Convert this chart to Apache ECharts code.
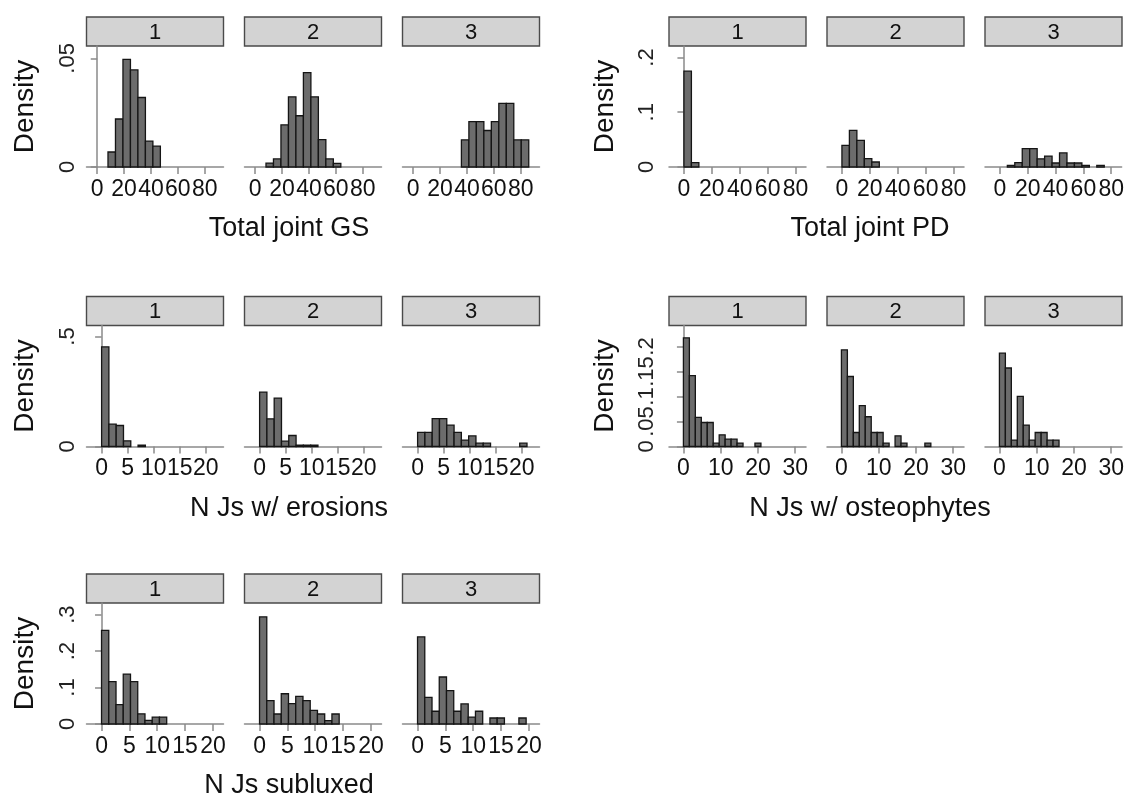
<!DOCTYPE html>
<html>
<head>
<meta charset="utf-8">
<script src="https://cdn.jsdelivr.net/npm/echarts@6/dist/echarts.min.js"></script>
<style>
html,body{margin:0;padding:0;background:#fff;}
#chart{width:1127px;height:798px;}
</style>
</head>
<body>
<div id="chart"></div>
<script>
// ---------- DATA ----------
const facetLabels = ['1', '2', '3'];
const yTitle = 'Density';

// Total joint GS
const gsTitle = 'Total joint GS';
const gsBinStart = 8;
const gsBinWidth = 78 / 14;
const gsDensity1 = [0.0069, 0.0221, 0.0495, 0.0447, 0.0320, 0.0119, 0.0096, 0, 0, 0, 0, 0, 0, 0];
const gsDensity2 = [0.0018, 0.0037, 0.0194, 0.0323, 0.0236, 0.0434, 0.0323, 0.0126, 0.0037, 0.0017, 0, 0, 0, 0];
const gsDensity3 = [0, 0, 0, 0, 0, 0.0125, 0.0209, 0.0209, 0.0168, 0.0209, 0.0293, 0.0293, 0.0125, 0.0125];
const gsXTicks = [0, 20, 40, 60, 80];
const gsYTicks = [0, 0.05];

// Total joint PD
const pdTitle = 'Total joint PD';
const pdBinStart = 0;
const pdBinWidth = 75 / 14;
const pdDensity1 = [0.175, 0.008, 0, 0, 0, 0, 0, 0, 0, 0, 0, 0, 0, 0];
const pdDensity2 = [0.0396, 0.067, 0.0488, 0.0152, 0.0091, 0, 0, 0, 0, 0, 0, 0, 0, 0];
const pdDensity3 = [0, 0.003, 0.008, 0.0336, 0.0336, 0.015, 0.020, 0.0073, 0.0257, 0.0073, 0.0073, 0.003, 0, 0.003];
const pdXTicks = [0, 20, 40, 60, 80];
const pdYTicks = [0, 0.1, 0.2];

// N Js w/ erosions
const erTitle = 'N Js w/ erosions';
const erBinStart = 0;
const erBinWidth = 1.4;
const erDensity1 = [0.453, 0.1015, 0.0955, 0.026, 0, 0.006, 0, 0, 0, 0, 0, 0, 0, 0, 0];
const erDensity2 = [0.247, 0.126, 0.22, 0.024, 0.05, 0.006, 0.006, 0.006, 0, 0, 0, 0, 0, 0, 0];
const erDensity3 = [0.064, 0.064, 0.127, 0.127, 0.097, 0.064, 0.029, 0.048, 0.015, 0.015, 0, 0, 0, 0, 0.015];
const erXTicks = [0, 5, 10, 15, 20];
const erYTicks = [0, 0.5];

// N Js w/ osteophytes
const osTitle = 'N Js w/ osteophytes';
const osBinStart = 0;
const osBinWidth = 1.6;
const osDensity1 = [0.2174, 0.1418, 0.0582, 0.048, 0.048, 0.0067, 0.0234, 0.0147, 0.0147, 0.0067, 0, 0, 0.0067, 0, 0];
const osDensity2 = [0.1933, 0.14, 0.028, 0.0816, 0.0595, 0.028, 0.028, 0.0067, 0, 0.0214, 0.0067, 0, 0, 0, 0.0067];
const osDensity3 = [0.1866, 0.157, 0.0127, 0.1003, 0.0428, 0.0127, 0.028, 0.028, 0.0127, 0.0127, 0, 0, 0, 0, 0];
const osXTicks = [0, 10, 20, 30];
const osYTicks = [0, 0.05, 0.1, 0.15, 0.2];

// N Js subluxed
const suTitle = 'N Js subluxed';
const suBinStart = 0;
const suBinWidth = 1.3;
const suDensity1 = [0.257, 0.116, 0.053, 0.137, 0.116, 0.028, 0.01, 0.019, 0.019, 0, 0, 0, 0, 0, 0];
const suDensity2 = [0.294, 0.064, 0.0275, 0.083, 0.056, 0.076, 0.064, 0.0375, 0.0275, 0.009, 0.0275, 0, 0, 0, 0];
const suDensity3 = [0.239, 0.073, 0.035, 0.129, 0.0915, 0.035, 0.055, 0.019, 0.035, 0, 0.0165, 0.0165, 0, 0, 0.0165];
const suXTicks = [0, 5, 10, 15, 20];
const suYTicks = [0, 0.1, 0.2, 0.3];

// ---------- LAYOUT ----------
const panels = [
  {title: gsTitle, start: gsBinStart, width: gsBinWidth, dens: [gsDensity1, gsDensity2, gsDensity3], xt: gsXTicks, yt: gsYTicks, xr: [-8, 94], ymax: 0.0557, col: 0, row: 0},
  {title: pdTitle, start: pdBinStart, width: pdBinWidth, dens: [pdDensity1, pdDensity2, pdDensity3], xt: pdXTicks, yt: pdYTicks, xr: [-10.7, 87.5], ymax: 0.221, col: 1, row: 0},
  {title: erTitle, start: erBinStart, width: erBinWidth, dens: [erDensity1, erDensity2, erDensity3], xt: erXTicks, yt: erYTicks, xr: [-2.9, 23.4], ymax: 0.55, col: 0, row: 1},
  {title: osTitle, start: osBinStart, width: osBinWidth, dens: [osDensity1, osDensity2, osDensity3], xt: osXTicks, yt: osYTicks, xr: [-3.87, 32.9], ymax: 0.242, col: 1, row: 1},
  {title: suTitle, start: suBinStart, width: suBinWidth, dens: [suDensity1, suDensity2, suDensity3], xt: suXTicks, yt: suYTicks, xr: [-2.7, 21.9], ymax: 0.332, col: 0, row: 2}
];

const colFacetLeft = [[86.5, 244.5, 402.5], [669, 827, 985]];
const colTitleX = [289, 870];
const colLabelMargin = [8, 11];
const colNameGap = [47, 50];
const facetW = 137;
const rowTop = [17, 296.5, 574];
const headerH = 29;
const plotH = 121;
const FONT = 'Liberation Sans, Arial, sans-serif';
const axisGray = '#8a8a8a';

const fmt = v => {
  if (v === 0) return '0';
  return String(v).replace(/^0\./, '.');
};

const grids = [], xAxes = [], yAxes = [], series = [], graphics = [];

panels.forEach(p => {
  const top = rowTop[p.row] + headerH;
  colFacetLeft[p.col].forEach((left, f) => {
    const gi = grids.length;
    grids.push({left: left, top: top, width: facetW, height: plotH, containLabel: false});
    xAxes.push({
      type: 'value', gridIndex: gi, min: p.xr[0], max: p.xr[1],
      axisLine: {show: true, onZero: false, lineStyle: {color: axisGray, width: 1.5}},
      axisTick: {show: true, length: 7, customValues: p.xt, lineStyle: {color: axisGray, width: 1.5}},
      axisLabel: {show: true, customValues: p.xt, formatter: fmt, fontSize: 23, color: '#111', margin: 11, fontFamily: FONT, hideOverlap: false},
      splitLine: {show: false}
    });
    const first = f === 0;
    yAxes.push({
      type: 'value', gridIndex: gi, min: 0, max: p.ymax, show: true,
      name: first ? yTitle : '', nameLocation: 'middle', nameRotate: 90, nameGap: colNameGap[p.col],
      nameTextStyle: {fontSize: 28, color: '#111', fontFamily: FONT},
      axisLine: {show: first, lineStyle: {color: axisGray, width: 1.5}},
      axisTick: {show: first, length: 6.5, customValues: p.yt, lineStyle: {color: axisGray, width: 1.5}},
      axisLabel: {show: first, customValues: p.yt, formatter: fmt, rotate: 90, fontSize: 22, color: '#222', margin: colLabelMargin[p.col], fontFamily: FONT, hideOverlap: false},
      splitLine: {show: false}
    });
    const data = [];
    p.dens[f].forEach((d, i) => {
      if (d > 0) data.push([p.start + i * p.width, p.start + (i + 1) * p.width, d]);
    });
    series.push({
      type: 'custom', xAxisIndex: gi, yAxisIndex: gi, data: data,
      encode: {x: [0, 1], y: 2},
      renderItem: (params, api) => {
        const a = api.coord([api.value(0), api.value(2)]);
        const b = api.coord([api.value(1), 0]);
        return {type: 'rect', shape: {x: a[0], y: a[1], width: b[0] - a[0], height: b[1] - a[1]},
          style: {fill: '#6c6c6c', stroke: '#151515', lineWidth: 1.3}};
      }
    });
    // facet header strip
    graphics.push({type: 'rect', x: left, y: rowTop[p.row], shape: {width: facetW, height: headerH},
      style: {fill: '#d3d3d3', stroke: '#4a4a4a', lineWidth: 1.4}});
    graphics.push({type: 'text', x: left + facetW / 2, y: rowTop[p.row] + headerH / 2 + 1,
      style: {text: facetLabels[f], fontSize: 22, fontFamily: FONT, fill: '#111', align: 'center', verticalAlign: 'middle'}});
  });
  graphics.push({type: 'text', x: colTitleX[p.col], y: top + plotH + 62,
    style: {text: p.title, fontSize: 27, fontFamily: FONT, fill: '#111', align: 'center', verticalAlign: 'middle'}});
});

const chart = echarts.init(document.getElementById('chart'), null, {renderer: 'canvas'});
chart.setOption({
  animation: false,
  backgroundColor: '#fff',
  grid: grids, xAxis: xAxes, yAxis: yAxes, series: series,
  graphic: graphics
});
</script>
</body>
</html>
